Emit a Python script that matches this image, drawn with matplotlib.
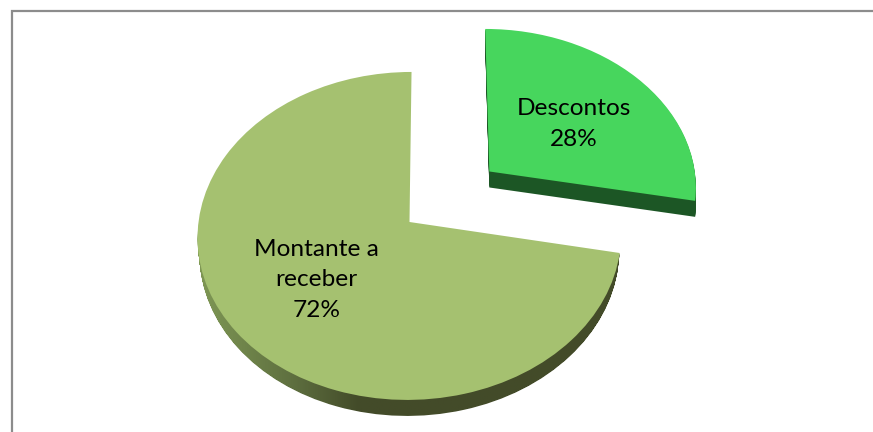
import numpy as np
import matplotlib
matplotlib.use("Agg")
import matplotlib.pyplot as plt
from matplotlib.colors import LinearSegmentedColormap
from matplotlib.path import Path
from matplotlib.transforms import Transform, Affine2D

categories = ["Descontos", "Montante a\nreceber"]
values = [28, 72]
explode = [0.5, 0]

TOP = ["#47D65D", "#A5C170"]
EDGE_DARK = "#1C5625"
RIM_STOPS = [(0.0, "#7F9855"), (0.22, "#5F7040"), (0.38, "#434B29"), (1.0, "#434B29")]
DEPTH = 16
CX, CY, BX, A, K, SKEW = 409.5, 222.0, 211.0, 162.8, 0.085, 2.2
W, H = 873, 432


class Tilt(Transform):
    """Perspective view of the pie's disc, giving figure pixels."""
    input_dims = output_dims = 2
    is_affine = False
    has_inverse = False

    def transform_non_affine(self, xy):
        xy = np.asarray(xy, float)
        u, v = xy[:, 0], xy[:, 1]
        w = 1 + K * v
        return np.column_stack([CX + (BX * u + SKEW * v) / w, CY - A * v / w])


def lowered(dy):
    """Floor of the pie lies a little further from the viewer."""
    s = 1 - 0.009 * dy / DEPTH
    return Affine2D().translate(-CX, 0).scale(s, 1).translate(CX, dy)


plt.rcParams["font.family"] = ["Lato", "DejaVu Sans"]
fig = plt.figure(figsize=(W / 100, H / 100), dpi=100, facecolor="white")
ax = fig.add_axes([0, 0, 1, 1])
tilt = Tilt()


def draw_pie(colors, zorder, dy=0):
    wedges, _ = ax.pie(values, explode=explode, startangle=90, counterclock=False,
                       colors=colors, radius=1, normalize=True,
                       wedgeprops=dict(linewidth=0, zorder=zorder))
    for w in wedges:
        w.set_transform(tilt + Affine2D().translate(0, dy) + ax.transData)
    return wedges


# side wall of the detached slice (solid) and the main slice (clipped gradient)
for dy in range(DEPTH, 0, -1):
    wd, wm = draw_pie([EDGE_DARK, "none"], 2, dy)
    wm.set_visible(False)

top_d, top_m = draw_pie(TOP, 5)
ax.set_aspect("auto")
ax.set_xlim(0, W)
ax.set_ylim(H, 0)
ax.axis("on")
ax.set_xticks([])
ax.set_yticks([])
for s in ax.spines.values():
    s.set_visible(False)

# rim of the large slice: horizontal gradient clipped to its swept outline
rim_cmap = LinearSegmentedColormap.from_list("rim", RIM_STOPS)
grad = np.linspace(0, 1, 256).reshape(1, -1)
im = ax.imshow(grad, cmap=rim_cmap, extent=(197, 622, H, 230), aspect="auto", zorder=3)
ax.set_xlim(0, W)
ax.set_ylim(H, 0)
base = top_m.get_path()
paths = [Path(lowered(dy).transform(tilt.transform(base.vertices)), base.codes)
         for dy in range(1, DEPTH + 1)]
im.set_clip_path(Path.make_compound_path(*paths), ax.transData)

# labels
ax.text(573.5, 124, f"{categories[0]}\n{values[0]}%", ha="center", va="center",
        fontsize=17.6, color="black", linespacing=1.54, zorder=6)
ax.text(316.5, 280, f"{categories[1]}\n{values[1]}%", ha="center", va="center",
        fontsize=17.6, color="black", linespacing=1.54, zorder=6)

# chart frame
ax.plot([11.5, 11.5, W], [H, 11.3, 11.3], color="#8C8C8C", lw=1.6, zorder=1,
        solid_joinstyle="miter", scalex=False, scaley=False)

fig.savefig("out.png", dpi=100, facecolor="white")
